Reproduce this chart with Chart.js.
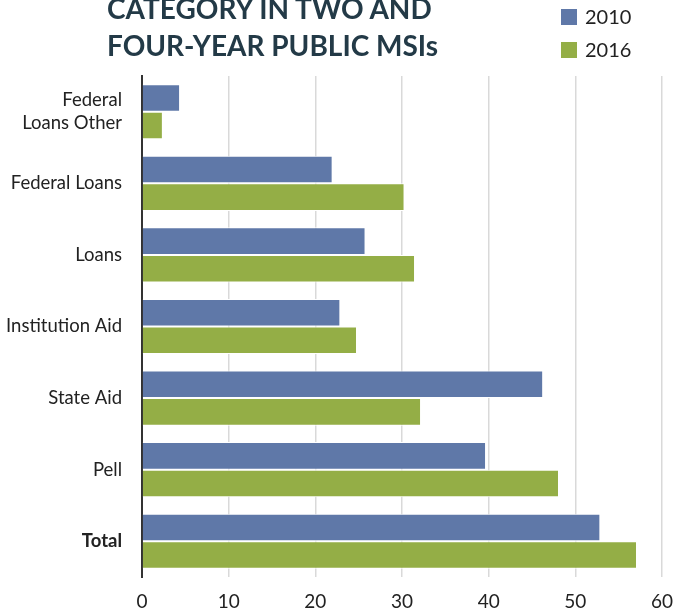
<!DOCTYPE html>
<html>
<head>
<meta charset="utf-8">
<script src="https://cdn.jsdelivr.net/npm/chart.js@4.4.0/dist/chart.umd.min.js"></script>
<style>
	html, body { margin: 0; padding: 0; background: #fff; }
	#wrap { position: relative; width: 673px; height: 613px; overflow: hidden; }
	#title { position: absolute; left: 107px; top: -10px; font: bold 28px Lato, sans-serif; line-height: 37px; color: #233a47; white-space: nowrap; }
	.legend-item { position: absolute; left: 561px; font: 20px Lato, sans-serif; color: #222; white-space: nowrap; }
	.legend-item span { display: inline-block; width: 16px; height: 16px; vertical-align: -1px; margin-right: 8px; }
</style>
</head>
<body>
<div id="wrap">
	<canvas id="chart" width="673" height="613"></canvas>
	<div id="title">CATEGORY IN TWO AND<br>FOUR-YEAR PUBLIC MSIs</div>
	<div class="legend-item" style="top:4px"><span style="background:#5f78a8"></span>2010</div>
	<div class="legend-item" style="top:37px"><span style="background:#94ae46"></span>2016</div>
</div>
<script>
var categories = [['Federal', 'Loans Other'], 'Federal Loans', 'Loans', 'Institution Aid', 'State Aid', 'Pell', 'Total'];
var values2010 = [4.3, 21.9, 25.7, 22.8, 46.2, 39.6, 52.8];
var values2016 = [2.3, 30.2, 31.4, 24.7, 32.1, 48.0, 57.0];
var xTicks = [0, 10, 20, 30, 40, 50, 60];

var BLUE = '#5f78a8';
var GREEN = '#94ae46';

var barBorder = {top: 1, bottom: 1, left: 0, right: 0};

var chartConfig = {
	type: 'bar',
	data: {
		labels: categories,
		datasets: [{
			label: '2010',
			data: values2010,
			backgroundColor: BLUE,
			borderColor: '#ffffff',
			borderWidth: barBorder,
			borderSkipped: false
		}, {
			label: '2016',
			data: values2016,
			backgroundColor: GREEN,
			borderColor: '#ffffff',
			borderWidth: barBorder,
			borderSkipped: false
		}]
	},
	options: {
		indexAxis: 'y',
		responsive: false,
		animation: false,
		layout: {padding: {top: 76, right: 0, left: 0, bottom: 0}},
		datasets: {bar: {categoryPercentage: 0.77, barPercentage: 1}},
		plugins: {legend: {display: false}, tooltip: {enabled: false}},
		scales: {
			x: {
				min: 0,
				max: 60,
				afterBuildTicks: function (scale) {
					scale.ticks = xTicks.map(function (v) { return {value: v}; });
				},
				afterFit: function (scale) {
					// keep the plot right edge where the original has it
					scale.height = 36;
					scale.paddingLeft = 0;
					scale.paddingRight = 11;
				},
				grid: {color: '#d9d9d9', lineWidth: 1.5, drawTicks: false},
				border: {display: false},
				ticks: {
					padding: 13,
					color: '#222',
					font: {family: 'Lato', size: 19}
				}
			},
			y: {
				afterFit: function (scale) {
					scale.width = 142;
					scale.paddingTop = 0;
					scale.paddingBottom = 0;
				},
				grid: {display: false, drawTicks: false},
				border: {display: true, color: '#333', width: 2},
				ticks: {
					padding: 20,
					color: '#222',
					font: function (ctx) {
						return {family: 'Lato', size: 18.5, lineHeight: 1.25, weight: ctx.index === 6 ? 'bold' : 'normal'};
					}
				}
			}
		}
	}
};

window.mainChart = new Chart(document.getElementById('chart').getContext('2d'), chartConfig);
</script>
</body>
</html>
